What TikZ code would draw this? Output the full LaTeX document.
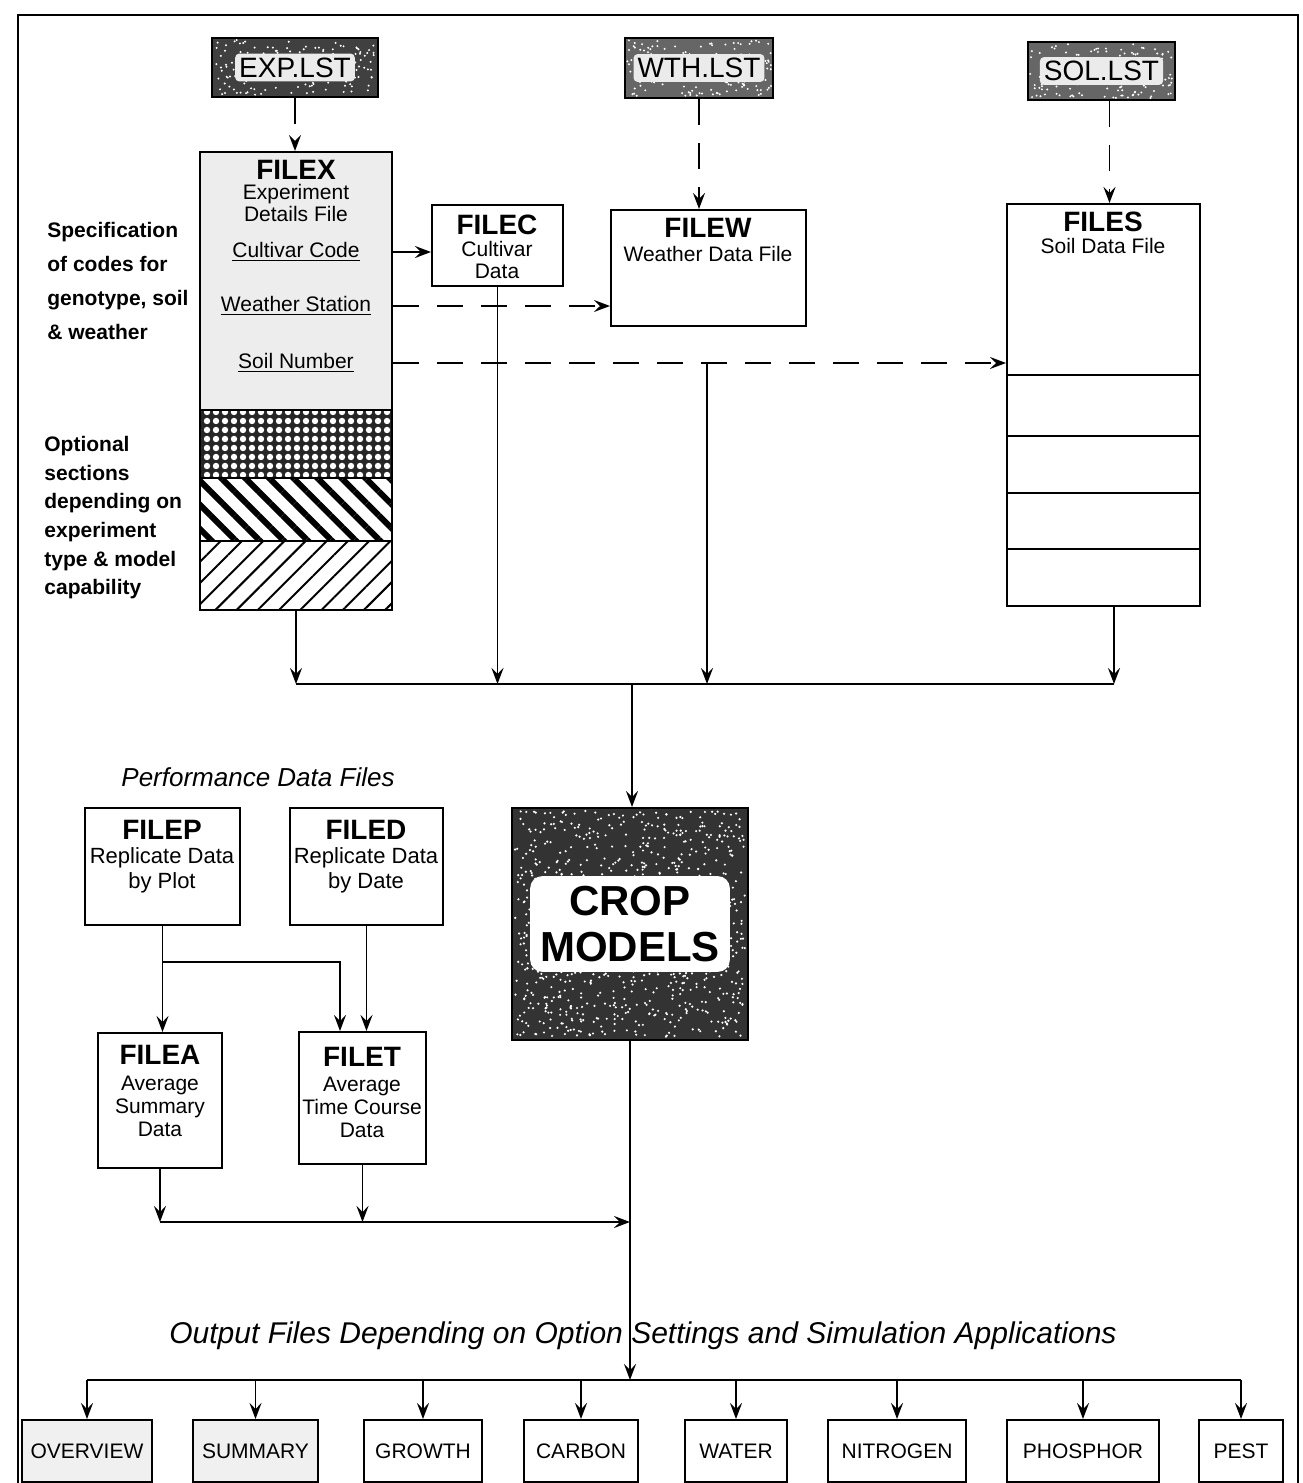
\documentclass[tikz,border=0pt]{standalone}
\usepackage{fontspec}
\setmainfont{Liberation Sans}
\usetikzlibrary{arrows.meta, fit, calc, patterns.meta}

\begin{document}
\begin{tikzpicture}[x=0.5pt, y=-0.5pt, >={Stealth[length=8pt, width=6pt, inset=3pt]},
    box/.style={draw, line width=1pt, inner sep=0pt},
    listbox/.style={box, fill=black!60},
    listtext/.style={fill=black!8, rounded corners=2pt, inner sep=2pt, font=\fontsize{14}{16}\selectfont},
    outtext/.style={inner sep=0pt, font=\fontsize{10.5}{12}\selectfont},
    title/.style={font=\bfseries\fontsize{14}{15}\selectfont, inner sep=0pt},
    desc/.style={font=\fontsize{10.5}{11}\selectfont, align=center, inner sep=0pt},
    field/.style={font=\fontsize{10.5}{12}\selectfont, inner sep=0pt},
    note/.style={font=\bfseries\fontsize{10.5}{17}\selectfont, align=left, inner sep=0pt, anchor=north west},
    heading/.style={font=\itshape\fontsize{13}{15}\selectfont, inner sep=0pt},
    croptext/.style={fill=white, rounded corners=6pt, inner sep=5pt,
        font=\bfseries\fontsize{21}{23}\selectfont, align=center},
    link/.style={->, line width=0.8pt},
    dlink/.style={link, dash pattern=on 13pt off 9pt}]

    % --- Page and frame ---
    \useasboundingbox (0,0) rectangle (1302,1483);
    \draw[line width=0.8pt] (18,1483) -- (18,15) -- (1298,15) -- (1298,1483);
    \pgfmathsetseed{42}

    % --- List files ---
    \node[listbox, fill=black!75, fit={(212,38) (378,97)}] (explst) {};
    \node[listbox, fit={(625,38) (773,98)}] (wthlst) {};
    \node[listbox, fit={(1028,42) (1175,100)}] (sollst) {};
    \foreach \xl/\yt/\w/\h in {212/38/166/59, 625/38/148/60, 1028/42/147/58}
        \foreach \i in {1,...,160}
            \fill[white] ({\xl+2+(\w-4)*rnd},{\yt+2+(\h-4)*rnd}) circle (0.55pt);
    \node[listtext] (explstT) at (explst) {EXP.LST};
    \node[listtext] (wthlstT) at (wthlst) {WTH.LST};
    \node[listtext] (sollstT) at (sollst) {SOL.LST};

    % --- FILEX with its optional sections ---
    \fill[black!7] (200,152) rectangle (392,410);
    \fill[black!85] (200,410) rectangle (392,478);
    \fill[pattern={Dots[radius=1.6pt, distance=4.5pt]}, pattern color=white] (200,410) rectangle (392,478);
    \fill[pattern={Lines[angle=-45, distance=8.5pt, line width=3pt]}] (200,478) rectangle (392,541);
    \fill[pattern={Lines[angle=45, distance=7.5pt, line width=1pt]}] (200,541) rectangle (392,610);
    \node[box, fit={(200,152) (392,610)}] (filex) {};
    \foreach \y in {410,478,541}
        \draw[line width=0.8pt] (filex.west |- 0,\y) -- (filex.east |- 0,\y);
    \node[title] (filexT) at (296,170) {FILEX};
    \node[desc] (filexD) at (296,203) {Experiment\\Details File};
    \node[field] (ccode) at (296,252) {\underline{Cultivar Code}};
    \node[field] (wstat) at (296,306) {\underline{Weather Station}};
    \node[field] (soilno) at (296,363) {\underline{Soil Number}};

    % --- Side notes ---
    \node[note] (specnote) at (47,222) {Specification\\of codes for\\genotype, soil\\\& weather};
    \node[note, font=\bfseries\fontsize{10.5}{14.3}\selectfont] (optnote) at (44,436)
        {Optional\\sections\\depending on\\experiment\\type \& model\\capability};

    % --- Cultivar, weather and soil files ---
    \node[box, fit={(432,205) (563,286)}] (filec) {};
    \node[title] (filecT) at (497,225) {FILEC};
    \node[desc] (filecD) at (497,260) {Cultivar\\Data};

    \node[box, fit={(611,210) (806,326)}] (filew) {};
    \node[title] (filewT) at (708,228) {FILEW};
    \node[desc] (filewD) at (708,254) {Weather Data File};

    \node[box, fit={(1007,204) (1200,606)}] (files) {};
    \node[title] (filesT) at (1103,222) {FILES};
    \node[desc] (filesD) at (1103,246) {Soil Data File};
    \foreach \y in {375,436,493,549}
        \draw[line width=0.8pt] (files.west |- 0,\y) -- (files.east |- 0,\y);

    % --- Links from the list and experiment files ---
    \draw[dlink] (explst.south) -- (explst.south |- filex.north);
    \draw[dlink] (wthlst.south) -- (wthlst.south |- filew.north);
    \draw[dlink] ($(sollst.south)+(8,0)$) -- ($(sollst.south |- files.north)+(8,0)$);
    \draw[link, line width=1pt] (filex.east |- ccode) -- (filec.west |- ccode);
    \draw[dlink] (filex.east |- wstat) -- (filew.west |- wstat);
    \draw[dlink] (filex.east |- soilno) -- (files.west |- soilno);

    % --- Input bus to the models ---
    \coordinate (inbus) at (632,684);
    \coordinate (wdrop) at (707,363);
    \coordinate (sdrop) at (1114,606);
    \draw[link] (filex.south) -- (filex.south |- inbus);
    \draw[link] (filec.south) -- (filec.south |- inbus);
    \draw[link] (wdrop) -- (wdrop |- inbus);
    \draw[link] (sdrop) -- (sdrop |- inbus);
    \draw[line width=0.8pt] (filex.south |- inbus) -- (sdrop |- inbus);

    % --- Crop models ---
    \node[box, fill=black!80, fit={(512,808) (748,1040)}] (crop) {};
    \foreach \i in {1,...,900}
        \fill[white] ({515+230*rnd},{811+226*rnd}) circle (0.6pt);
    \node[croptext] (cropT) at (crop.center) {CROP\\MODELS};
    \draw[link] (inbus) -- (inbus |- crop.north);

    % --- Performance data files ---
    \node[heading] (perf) at (258,777) {Performance Data Files};
    \node[box, fit={(85,808) (240,925)}] (filep) {};
    \node[title] (filepT) at (162,830) {FILEP};
    \node[desc, font=\fontsize{11}{12.5}\selectfont] (filepD) at (162,870) {Replicate Data\\by Plot};
    \node[box, fit={(290,808) (443,925)}] (filed) {};
    \node[title] (filedT) at (366,830) {FILED};
    \node[desc, font=\fontsize{11}{12.5}\selectfont] (filedD) at (366,870) {Replicate Data\\by Date};

    \node[box, fit={(98,1033) (222,1168)}] (filea) {};
    \node[title] (fileaT) at (160,1055) {FILEA};
    \node[desc, font=\fontsize{10.5}{11.5}\selectfont] (fileaD) at (160,1106) {Average\\Summary\\Data};
    \node[box, fit={(299,1032) (426,1164)}] (filet) {};
    \node[title] (filetT) at (362,1057) {FILET};
    \node[desc, font=\fontsize{10.5}{11.5}\selectfont] (filetD) at (362,1107) {Average\\Time Course\\Data};

    \coordinate (pbranch) at (filep.south |- 0,962);
    \coordinate (tjoin) at (340,962);
    \draw[link] (filep.south) -- (filep.south |- filea.north);
    \draw[link] (pbranch) -- (tjoin) -- (tjoin |- filet.north);
    \draw[link] (filed.south) -- (filed.south |- filet.north);

    \coordinate (perfbus) at (crop.south |- 0,1222);
    \draw[link] (filea.south) -- (filea.south |- perfbus);
    \draw[link] (filet.south) -- (filet.south |- perfbus);
    \draw[link] (filea.south |- perfbus) -- (perfbus);

    % --- Output files ---
    \node[heading, font=\itshape\fontsize{15}{17}\selectfont] (outtitle) at (643,1336)
        {Output Files Depending on Option Settings and Simulation Applications};
    \coordinate (outbus) at (crop.south |- 0,1380);
    \draw[link] (crop.south) -- (outbus);
    \foreach \name/\lab/\xl/\xr/\shade in {ovw/OVERVIEW/22/152/black!6, sum/SUMMARY/193/318/black!6,
            grw/GROWTH/364/482/white, carb/CARBON/524/638/white, wat/WATER/685/787/white,
            nit/NITROGEN/828/966/white, pho/PHOSPHOR/1007/1159/white, pest/PEST/1199/1283/white} {
        \node[box, fill=\shade, fit={(\xl,1420) (\xr,1482)}] (\name) {};
        \node[outtext] (\name-t) at (\name) {\lab};
        \draw[link] (\name.north |- outbus) -- (\name.north);
    }
    \draw[line width=0.8pt] (ovw.north |- outbus) -- (pest.north |- outbus);

\end{tikzpicture}
\end{document}
